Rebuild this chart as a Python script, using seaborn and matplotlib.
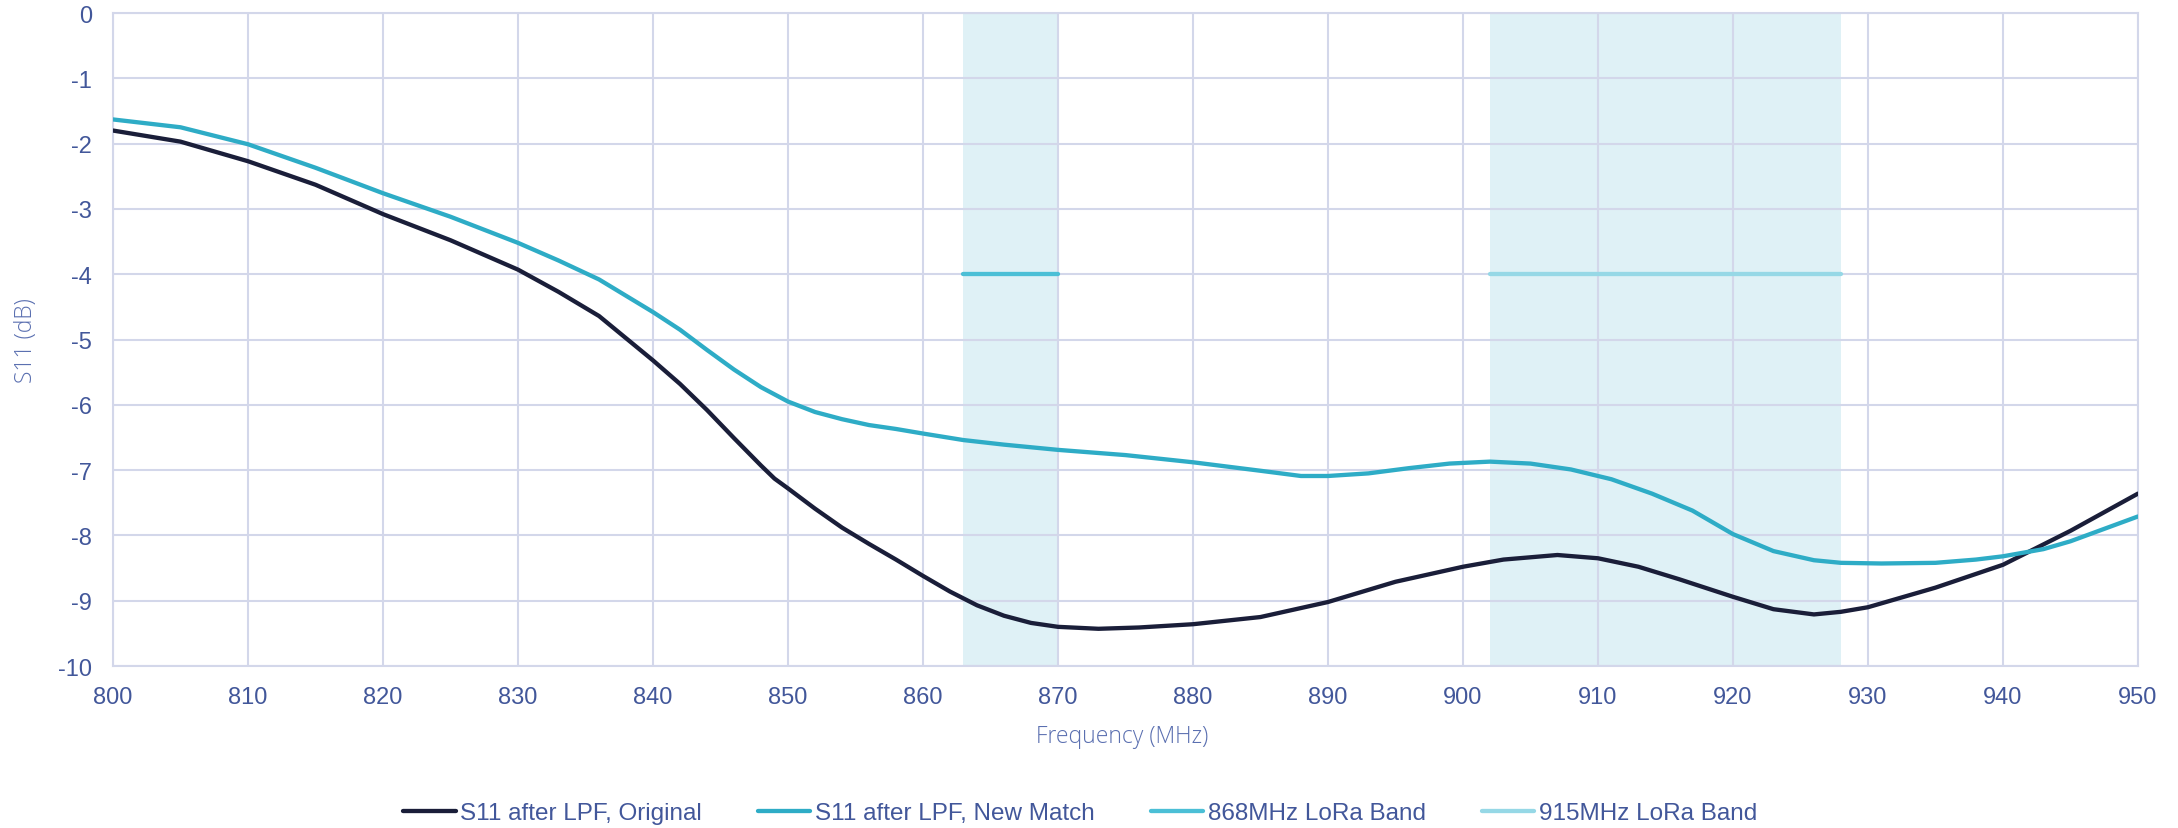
import numpy as np
import pandas as pd
import seaborn as sns
import matplotlib.pyplot as plt

# frequency points (MHz) and S11 (dB)
freq_orig = [800, 805, 810, 815, 820, 825, 830, 833, 836, 838, 840, 842, 844, 846, 848, 849,
             850, 852, 854, 856, 858, 860, 862, 864, 866, 868, 870, 873, 876, 880, 885, 890,
             895, 900, 903, 907, 910, 913, 916, 920, 923, 926, 928, 930, 935, 940, 945, 950]
s11_orig = [-1.80, -1.97, -2.27, -2.63, -3.08, -3.48, -3.93, -4.27, -4.64, -4.98, -5.32, -5.68,
            -6.08, -6.51, -6.93, -7.13, -7.28, -7.59, -7.88, -8.13, -8.37, -8.62, -8.86, -9.07,
            -9.23, -9.34, -9.40, -9.43, -9.41, -9.36, -9.25, -9.02, -8.71, -8.48, -8.37, -8.30,
            -8.35, -8.48, -8.67, -8.94, -9.13, -9.21, -9.17, -9.10, -8.80, -8.45, -7.93, -7.36]

freq_new = [800, 805, 810, 815, 820, 825, 830, 833, 836, 838, 840, 842, 844, 846, 848, 850,
            852, 854, 856, 858, 860, 863, 866, 870, 875, 880, 885, 888, 890, 893, 896, 899,
            902, 905, 908, 911, 914, 917, 920, 923, 926, 928, 931, 935, 938, 940, 943, 945, 950]
s11_new = [-1.63, -1.75, -2.01, -2.37, -2.76, -3.12, -3.52, -3.79, -4.08, -4.33, -4.58, -4.85,
           -5.16, -5.46, -5.73, -5.95, -6.11, -6.22, -6.31, -6.37, -6.44, -6.54, -6.61, -6.69,
           -6.77, -6.88, -7.01, -7.09, -7.09, -7.05, -6.97, -6.90, -6.87, -6.90, -6.99, -7.14,
           -7.36, -7.62, -7.98, -8.24, -8.38, -8.42, -8.43, -8.42, -8.37, -8.32, -8.21, -8.09,
           -7.71]

band_names = ["868MHz LoRa Band", "915MHz LoRa Band"]
band_start = [863, 902]
band_stop = [870, 928]
band_level = [-4, -4]

series_names = ["S11 after LPF, Original", "S11 after LPF, New Match"]

df = pd.concat([
    pd.DataFrame({"f": freq_orig, "s11": s11_orig, "series": series_names[0]}),
    pd.DataFrame({"f": freq_new, "s11": s11_new, "series": series_names[1]}),
])

sns.set_style("white")
plt.rcParams["font.family"] = ["Liberation Sans", "DejaVu Sans"]
plt.rcParams["axes.unicode_minus"] = False

txt = "#42579a"
light_txt = "#5a6fb0"
grid_c = "#d3d7ea"
line_cols = ["#1a1e39", "#2eacc6"]
band_fill = ["#dff1f6", "#dff1f6"]
band_line = ["#4bbfd6", "#96d8e6"]
lw = 3.1

fig = plt.figure(figsize=(21.78, 8.29), dpi=100)
ax = fig.add_axes([0.0519, 0.1954, 0.9297, 0.7877])

for i in range(len(band_names)):
    ax.axvspan(band_start[i], band_stop[i], color=band_fill[i], lw=0, zorder=0)

sns.lineplot(data=df, x="f", y="s11", hue="series", hue_order=series_names,
             palette=line_cols, linewidth=lw, ax=ax, legend=False,
             zorder=3, estimator=None, sort=True)

for i in range(len(band_names)):
    ax.plot([band_start[i], band_stop[i]], [band_level[i], band_level[i]],
            color=band_line[i], lw=lw, solid_capstyle="round", zorder=2)

ax.set_xlim(800, 950)
ax.set_ylim(-10, 0)
ax.set_xticks(np.arange(800, 951, 10))
ax.set_yticks(np.arange(-10, 1, 1))
ax.grid(True, color=grid_c, lw=1.5, zorder=1)
ax.set_axisbelow(True)
for s in ax.spines.values():
    s.set_color(grid_c)
    s.set_linewidth(1.5)
ax.tick_params(axis="both", colors=grid_c, width=1.5, labelsize=17, labelcolor=txt)
ax.tick_params(axis="x", length=4.5, pad=10)
ax.tick_params(axis="y", length=4.5, pad=10.5)

ax.set_xlabel("Frequency (MHz)", family=["Open Sans", "DejaVu Sans"], fontweight="light",
              fontsize=16.5, color=light_txt, va="center")
ax.set_ylabel("S11 (dB)", family=["Open Sans", "DejaVu Sans"], fontweight="light",
              fontsize=16.5, color=light_txt, va="center")
ax.xaxis.set_label_coords(0.4985, -0.107)
ax.yaxis.set_label_coords(-0.043, 0.5)

handles = [plt.Line2D([], [], color=line_cols[0], lw=lw),
           plt.Line2D([], [], color=line_cols[1], lw=lw),
           plt.Line2D([], [], color=band_line[0], lw=lw),
           plt.Line2D([], [], color=band_line[1], lw=lw)]
leg = fig.legend(handles, series_names + band_names, loc="center", ncol=4,
                 bbox_to_anchor=(0.496, 0.018), frameon=False, fontsize=17.5,
                 handlelength=2.15, handletextpad=0.2, columnspacing=2.3)
for t in leg.get_texts():
    t.set_color(txt)

fig.savefig("out.png", dpi=100)
